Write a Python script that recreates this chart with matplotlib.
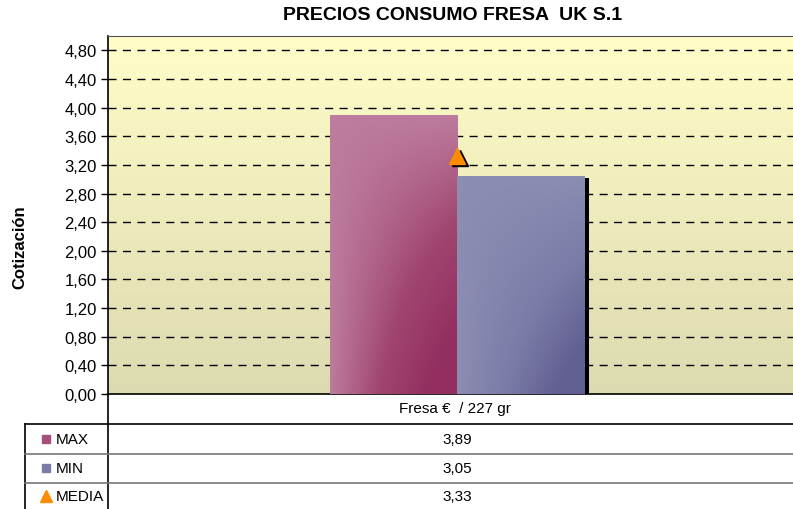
import numpy as np
import matplotlib
matplotlib.use("Agg")
import matplotlib.pyplot as plt
from matplotlib.colors import LinearSegmentedColormap

plt.rcParams['font.family'] = ['Liberation Sans', 'DejaVu Sans']

# data
title = "PRECIOS CONSUMO FRESA  UK S.1"
category = "Fresa €  / 227 gr"
series = ["MAX", "MIN", "MEDIA"]
max_val = [3.89]
min_val = [3.05]
media_val = [3.33]
y_ticks = np.arange(0, 4.81, 0.4)

W, H = 793, 510
fig = plt.figure(figsize=(W / 100, H / 100), dpi=100)

# plot area in pixels: left 108, top 37, bottom 395, category centred at x=457
left_px, top_px, bot_px, right_px = 108, 37, 395, 806
ax = fig.add_axes([left_px / W, 1 - bot_px / H, (right_px - left_px) / W, (bot_px - top_px) / H])

# background gradient of the plot area
bg = LinearSegmentedColormap.from_list("bg", ["#DCDAB0", "#FFFDC8"])
ax.imshow(np.linspace(0, 1, 256).reshape(-1, 1), cmap=bg, aspect='auto',
          extent=[0, 1, 0, 1], transform=ax.transAxes, origin='lower', zorder=0)

# grid
for v in y_ticks[1:]:
    ax.axhline(v, color='black', lw=1.0, dashes=(5.8, 4.6), zorder=1)

bw = 0.182
pink = LinearSegmentedColormap.from_list("pink", ["#BD7C9D", "#A0456F", "#932E60"])
blue = LinearSegmentedColormap.from_list("blue", ["#8C8DB2", "#7A7BA7", "#625F92"])

# light at top/left, darkest at bottom-right
xx, yy = np.meshgrid(np.linspace(0, 1, 120), np.linspace(0, 1, 200))
grad = np.clip(xx * yy * 1.3, 0, 1)


def grad_bar(x0, h, cmap, shadow=False):
    if shadow:
        ax.bar(x0 + 0.007, h, width=bw, align='edge', bottom=-0.04,
               color='black', zorder=2)
    b = ax.bar(x0, h, width=bw, align='edge', color='none', zorder=3)[0]
    im = ax.imshow(grad, cmap=cmap, aspect='auto', extent=[x0, x0 + bw, 0, h],
                   origin='upper', zorder=3)
    im.set_clip_path(b)


grad_bar(-bw, max_val[0], pink)
grad_bar(0, min_val[0], blue, shadow=True)
ax.set_xlim(-0.5, 0.5)
ax.set_ylim(0, 5.0)

# media marker with shadow
ax.plot([0.004], [media_val[0] - 0.04], marker='^', ms=11, color='black', zorder=4, clip_on=False)
ax.plot([0], [media_val[0]], marker='^', ms=11, color='#FF8C00', zorder=5, clip_on=False)

ax.set_yticks(y_ticks)
ax.set_yticklabels([f"{v:.2f}".replace('.', ',') for v in y_ticks])
ax.tick_params(axis='y', direction='out', length=5, width=1, labelsize=12, pad=3)
ax.set_xticks([])
ax.spines['right'].set_visible(False)
ax.spines['top'].set_color('#555555')
ax.spines['left'].set_linewidth(1.2)
ax.spines['bottom'].set_linewidth(1.2)

fig.text(453 / W, 1 - 16 / H, title, ha='center', va='center', fontsize=14, fontweight='bold')
fig.text(20 / W, 1 - 247 / H, "Cotización", rotation=90, ha='center', va='center',
         fontsize=12, fontweight='bold')


# data table
def fy(py):
    return 1 - py / H


fig.add_artist(plt.Line2D([left_px / W, left_px / W], [fy(395), fy(510)], color='black', lw=1.2))
fig.add_artist(plt.Line2D([25 / W, 25 / W], [fy(425), fy(510)], color='black', lw=1.2))
fig.add_artist(plt.Line2D([25 / W, 1], [fy(425), fy(425)], color='black', lw=1.2))
fig.add_artist(plt.Line2D([25 / W, 1], [fy(455), fy(455)], color='#777777', lw=1.2))
fig.add_artist(plt.Line2D([25 / W, 1], [fy(484), fy(484)], color='#777777', lw=1.2))

fig.text(455 / W, fy(409), category, ha='center', va='center', fontsize=11)
row_y = [440, 469, 497]
vals = [max_val[0], min_val[0], media_val[0]]
for lab, v, py in zip(series, vals, row_y):
    fig.text(457 / W, fy(py), f"{v:.2f}".replace('.', ','), ha='center', va='center', fontsize=11)
    fig.text(56 / W, fy(py), lab, ha='left', va='center', fontsize=11)

mk = fig.add_axes([0, 0, 1, 1], facecolor='none')
mk.set_xlim(0, W)
mk.set_ylim(H, 0)
mk.axis('off')
mk.plot([46], [row_y[0]], marker='s', ms=6, color='#A84E7C', ls='none')
mk.plot([46], [row_y[1]], marker='s', ms=6, color='#7A7BA7', ls='none')
mk.plot([46], [row_y[2]], marker='^', ms=8, color='#FF8C00', ls='none')

fig.savefig("out.png", dpi=100)
